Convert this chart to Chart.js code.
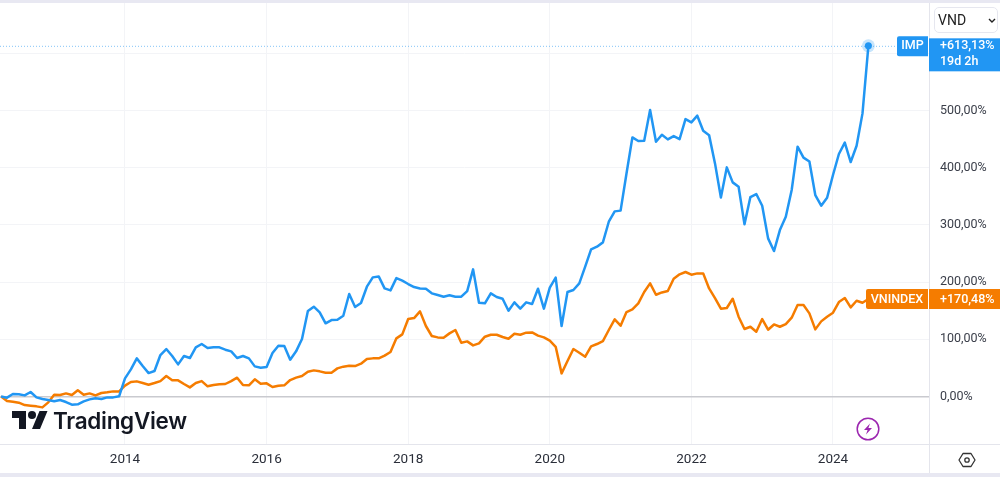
<!DOCTYPE html>
<html>
<head>
<meta charset="utf-8">
<title>IMP vs VNINDEX</title>
<script src="https://cdn.jsdelivr.net/npm/chart.js@4"></script>
<style>
    html, body { margin: 0; padding: 0; background: #fff; }
    #wrap { position: relative; width: 1000px; height: 477px; overflow: hidden; }
    canvas { position: absolute; left: 0; top: 0; }
    #topStrip, #bottomStrip { position: absolute; left: 0; width: 1000px; background: #e8e8f2; }
    #topStrip { top: 0; height: 3px; }
    #bottomStrip { top: 473px; height: 4px; }
    #currency {
        position: absolute; left: 934px; top: 7px; width: 64px; height: 26px;
        border: 1px solid #e6e7ef; border-radius: 5px; box-sizing: border-box;
        font: 14px/25px Roboto, sans-serif; color: #222; padding-left: 3px;
    }
    #logo { position: absolute; left: 12px; top: 407px; color: #131722; }
    #logoText {
        position: absolute; left: 53px; top: 406px; color: #131722;
        font: 600 22.5px/30px Inter, sans-serif; letter-spacing: -0.3px;
    }
    .icon { position: absolute; }
</style>
</head>
<body>
<div id="wrap">
    <canvas id="perfChart" width="1000" height="477"></canvas>
    <div id="topStrip"></div>
    <div id="bottomStrip"></div>
    <div id="currency">VND
        <svg class="icon" style="left:53px;top:10px" width="8" height="6" viewBox="0 0 8 6"><path d="M1 1l3 3 3-3" fill="none" stroke="#222" stroke-width="1.4"/></svg>
    </div>
    <svg id="logo" width="36" height="28" viewBox="0 0 36 28"><path fill="#131722" d="M14 22H7V11H0V4h14v18zM28 22h-8l7.5-18h8L28 22z"/><circle fill="#131722" cx="20" cy="8" r="4"/></svg>
    <div id="logoText">TradingView</div>
    <svg class="icon" style="left:856px;top:417px" width="24" height="24" viewBox="0 0 24 24"><circle cx="12" cy="12" r="10.8" fill="#fff" stroke="#9c27b0" stroke-width="1.5"/><path d="M14 6.5L8 13h3.6L10 17.5 16 11h-3.6z" fill="#9c27b0"/></svg>
    <svg class="icon" style="left:958px;top:451px" width="18" height="18" viewBox="0 0 18 18"><path d="M5 2.5h8L17 9l-4 6.5H5L1 9z" fill="none" stroke="#333" stroke-width="1.3" stroke-linejoin="round"/><circle cx="9" cy="9" r="2.2" fill="none" stroke="#333" stroke-width="1.3"/></svg>
</div>
<script>
// monthly closes, percent change from the first month (Apr 2012)
const firstMonth = 2012 + 3 / 12;

const impValues = [
    0, -2, 4.4, 3.8, 2, 7.9, -1.5, -4.4, -6.1, -8.4,
    -6.1, -9.6, -14.3, -13.7, -8.4, -5, -3.2, -4.4, -1.5, -1.5,
    0.3, 31.8, 47.5, 66.7, 53.3, 41, 44.6, 72.5, 83, 70.8,
    56.2, 70.8, 67.3, 86, 91.8, 84.8, 86, 86, 81.9, 79,
    67.3, 70.8, 66.7, 52.7, 50.4, 51.6, 76, 88.9, 88.3, 64.4,
    79, 100.5, 149.5, 157, 147, 128, 133.7, 134.3, 141.3, 179.2,
    156.5, 163.5, 192, 208.3, 210, 189, 185.6, 207, 202.5, 196.7,
    191.4, 189, 188.5, 180.4, 177.4, 174.5, 176.9, 174.5, 174.5, 184.4,
    222.3, 164, 162.9, 180.4, 174, 171, 150, 164.6, 153.6, 164.6,
    161.7, 188.5, 153.6, 190.3, 207.8, 123.3, 182.7, 186.2, 197.8, 227,
    257.3, 262, 269.5, 305.6, 323.7, 325, 390, 453, 446.7, 447.3,
    501, 445.5, 457.7, 449.6, 455.4, 450, 485, 479.3, 491, 464.7,
    457, 407.6, 348, 400.6, 374.4, 366.8, 301, 348.7, 354, 333.6,
    276.5, 254.3, 291, 314.4, 361, 436.8, 417.6, 411, 352.2, 333.6,
    347.6, 387.2, 424, 443.8, 410, 438.5, 495, 613.13
];

const vnindexValues = [
    0, -7.9, -9, -10.8, -14.9, -16, -17.2, -19, -10.2, 3.2,
    2.6, 5.5, 2.6, 10.8, 3.2, 5.5, 2, 6.1, 7.3, 9,
    9, 19, 25.3, 26.5, 23.6, 20.7, 23.6, 27, 35.8, 28.3,
    28.3, 21.9, 16, 23.6, 27, 17.8, 20, 21.3, 21.9, 27,
    32.9, 20, 19.5, 30, 22.4, 23, 16.6, 18.9, 19.5, 28.8,
    33, 35.8, 43.4, 45.7, 44, 41.7, 41.7, 49.2, 52.2, 53.9,
    53.3, 57.4, 65.6, 66.7, 66.7, 71.4, 77.8, 101.7, 108.7, 135.5,
    137.2, 148.9, 123.3, 105.8, 103.4, 102.9, 110.4, 116.3, 94.1, 96.4,
    89.4, 93, 104.6, 108, 108, 104, 101, 109.8, 108, 111.6,
    112, 106.4, 103.4, 97.6, 87, 40.5, 62, 83, 76.6, 69.6,
    87.7, 91.8, 97, 116.3, 134.9, 123.8, 147.7, 152.4, 162.9, 182.7,
    197.8, 178, 182, 184.4, 206, 213.6, 217.7, 213, 215.3, 215.3,
    189, 172.2, 153.6, 154.7, 171, 139.6, 118, 122, 113.3, 135.5,
    116.8, 126, 122, 126.7, 137.8, 160, 160, 145.4, 117.4, 131.4,
    139.6, 146.6, 165.2, 172.2, 155.9, 167.5, 164, 170.48
];

const yearTicks = [2014, 2016, 2018, 2020, 2022, 2024];
const percentTicks = [0, 100, 200, 300, 400, 500, 600];

const BLUE = '#2196f3';
const ORANGE = '#f57c00';

function fmtPercent(v) {
    return v.toFixed(2).replace('.', ',') + '%';
}

function toPoints(values) {
    return values.map((v, i) => ({ x: firstMonth + i / 12, y: v }));
}

function drawBox(c, x, y, w, h, color) {
    c.fillStyle = color;
    c.beginPath();
    c.roundRect(x, y, w, h, [2, 0, 0, 2]);
    c.fill();
}

// axis borders, last value line, and the price labels on the right
const overlayPlugin = {
    id: 'overlay',
    afterDraw(chart) {
        const c = chart.ctx;
        const area = chart.chartArea;
        const y = chart.scales.y;
        const impY = y.getPixelForValue(impValues[impValues.length - 1]);
        const vnY = y.getPixelForValue(vnindexValues[vnindexValues.length - 1]);
        const last = chart.getDatasetMeta(0).data[impValues.length - 1];

        c.save();
        c.strokeStyle = '#e4e5ec';
        c.lineWidth = 1;
        c.beginPath();
        c.moveTo(0, area.bottom + 0.5);
        c.lineTo(1000, area.bottom + 0.5);
        c.moveTo(area.right + 0.5, area.top);
        c.lineTo(area.right + 0.5, 473);
        c.stroke();

        c.strokeStyle = 'rgba(33,150,243,0.55)';
        c.setLineDash([1, 2]);
        c.beginPath();
        c.moveTo(0, impY + 0.5);
        c.lineTo(897, impY + 0.5);
        c.stroke();
        c.setLineDash([]);

        c.fillStyle = 'rgba(33,150,243,0.25)';
        c.beginPath();
        c.arc(last.x, last.y, 6.5, 0, Math.PI * 2);
        c.fill();
        c.fillStyle = BLUE;
        c.beginPath();
        c.arc(last.x, last.y, 3.5, 0, Math.PI * 2);
        c.fill();

        // IMP
        drawBox(c, 897, impY - 9.5, 31, 20, BLUE);
        c.fillStyle = BLUE;
        c.fillRect(929, impY - 7.5, 71, 33);
        // VNINDEX
        drawBox(c, 866, vnY - 10, 62, 20, ORANGE);
        c.fillStyle = ORANGE;
        c.fillRect(929, vnY - 10, 71, 20);

        c.fillStyle = '#fff';
        c.font = '500 12.5px Roboto, sans-serif';
        c.textBaseline = 'middle';
        c.textAlign = 'center';
        c.fillText('IMP', 912.5, impY + 0.5);
        c.fillText('VNINDEX', 897, vnY + 0.5);
        c.textAlign = 'left';
        c.fillText('+' + fmtPercent(impValues[impValues.length - 1]), 940, impY + 0.5);
        c.fillText('19d 2h', 940, impY + 16.5);
        c.fillText('+' + fmtPercent(vnindexValues[vnindexValues.length - 1]), 940, vnY + 0.5);
        c.restore();
    }
};

const ctx = document.getElementById('perfChart').getContext('2d');
const perfChart = new Chart(ctx, {
    type: 'line',
    data: {
        datasets: [{
            label: 'IMP',
            data: toPoints(impValues),
            borderColor: BLUE,
            borderWidth: 2.5,
            pointRadius: 0,
            tension: 0,
            borderJoinStyle: 'round'
        }, {
            label: 'VNINDEX',
            data: toPoints(vnindexValues),
            borderColor: ORANGE,
            borderWidth: 2.5,
            pointRadius: 0,
            tension: 0,
            borderJoinStyle: 'round'
        }]
    },
    options: {
        responsive: false,
        animation: false,
        layout: { padding: { top: 3, bottom: 4, left: 0, right: 0 } },
        plugins: {
            legend: { display: false },
            tooltip: { enabled: false }
        },
        scales: {
            x: {
                type: 'linear',
                min: 2012.2345,
                max: 2025.356,
                afterBuildTicks: function(axis) {
                    axis.ticks = yearTicks.map(v => ({ value: v }));
                },
                afterFit: function(axis) {
                    axis.height = 29;
                    axis.paddingLeft = 0;
                    axis.paddingRight = 0;
                },
                border: { display: false },
                grid: { color: '#f3f4f7', drawTicks: false },
                ticks: {
                    autoSkip: false,
                    maxRotation: 0,
                    padding: 8,
                    color: '#2a2e39',
                    font: { family: 'Roboto, sans-serif', size: 13.5 },
                    callback: function(value) { return String(value); }
                }
            },
            y: {
                position: 'right',
                min: -83,
                max: 688,
                afterBuildTicks: function(axis) {
                    axis.ticks = percentTicks.map(v => ({ value: v }));
                },
                afterFit: function(axis) {
                    axis.width = 71;
                    axis.paddingTop = 0;
                    axis.paddingBottom = 0;
                },
                border: { display: false },
                grid: {
                    drawTicks: false,
                    color: function(c) { return c.tick.value === 0 ? '#c9cacf' : '#f3f4f7'; },
                    lineWidth: function(c) { return c.tick.value === 0 ? 1.5 : 1; }
                },
                ticks: {
                    padding: 11,
                    color: '#3a3e49',
                    font: { family: 'Roboto, sans-serif', size: 12.5 },
                    // 600 sits behind the IMP label
                    callback: function(value) { return value === 600 ? '' : fmtPercent(value); }
                }
            }
        }
    },
    plugins: [overlayPlugin]
});
</script>
</body>
</html>
